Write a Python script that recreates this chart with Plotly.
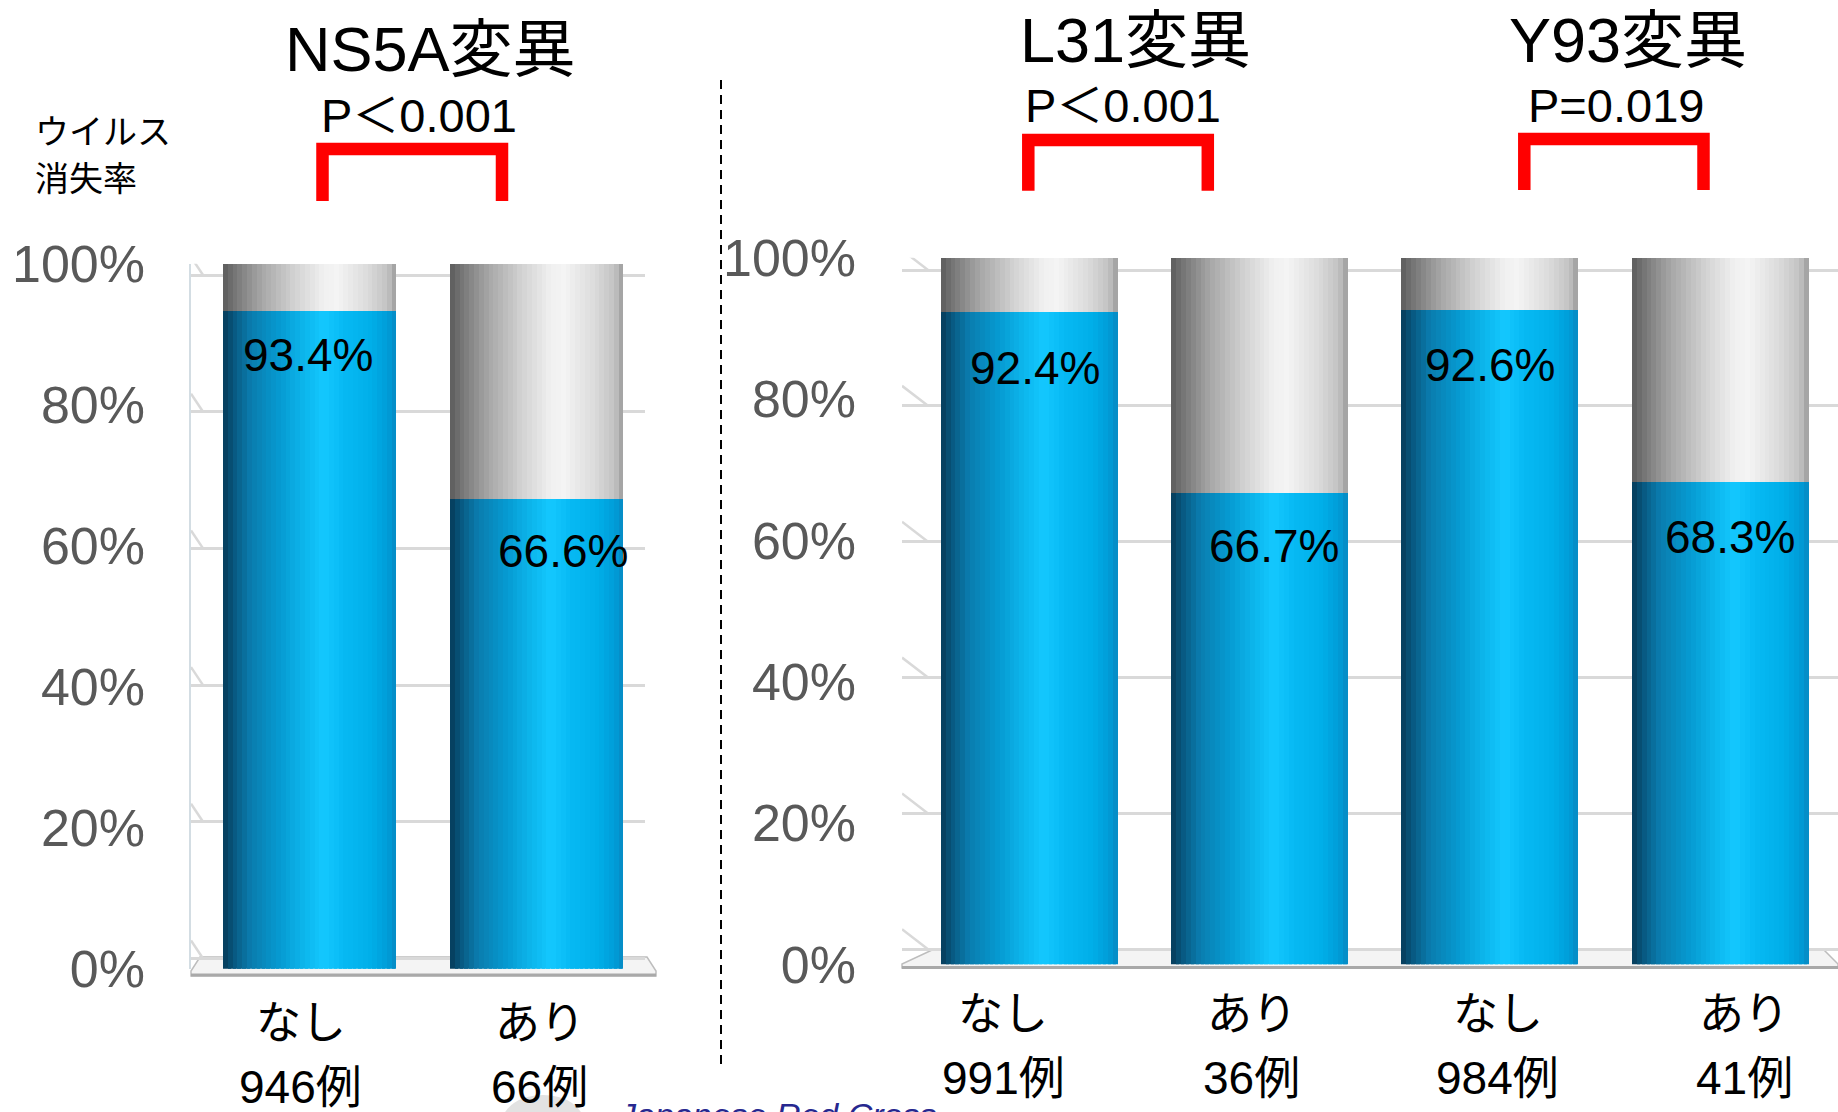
import plotly.graph_objects as go

W, H = 1838, 1112

# ---------------- data ----------------
ns5a_title = "NS5A変異"
ns5a_p = "P＜0.001"
ns5a_groups = ["なし", "あり"]
ns5a_counts = ["946例", "66例"]
ns5a_rates = [93.4, 66.6]

sub_titles = ["L31変異", "Y93変異"]
sub_p = ["P＜0.001", "P=0.019"]
sub_groups = ["なし", "あり", "なし", "あり"]
sub_counts = ["991例", "36例", "984例", "41例"]
sub_rates = [92.4, 66.7, 92.6, 68.3]

y_ticks = [0, 20, 40, 60, 80, 100]
y_ticktext = ["0%", "20%", "40%", "60%", "80%", "100%"]
y_title = ["ウイルス", "消失率"]
watermark = "Japanese Red Cross"

# ---------------- helpers ----------------
FONT = "Liberation Sans, Arial, Noto Sans CJK JP, sans-serif"
JFONT = "Noto Sans CJK JP, Liberation Sans, sans-serif"


def fx(p):
    return p / W


def fy(p):
    return 1 - p / H


def hex2rgb(h):
    h = h.lstrip("#")
    return [int(h[i:i + 2], 16) for i in (0, 2, 4)]


def grad(stops, t):
    for (t0, c0), (t1, c1) in zip(stops[:-1], stops[1:]):
        if t0 <= t <= t1:
            a, b = hex2rgb(c0), hex2rgb(c1)
            f = 0 if t1 == t0 else (t - t0) / (t1 - t0)
            r = [round(a[k] + (b[k] - a[k]) * f) for k in range(3)]
            return "rgb(%d,%d,%d)" % tuple(r)
    return stops[-1][1]


BLUE = [(0.0, "#063b58"), (0.06, "#08577e"), (0.16, "#0a7cae"), (0.32, "#0699d0"),
        (0.48, "#0db8ee"), (0.58, "#14c8ff"), (0.70, "#06b9f3"), (0.86, "#00aee8"),
        (0.95, "#009cd8"), (1.0, "#0789c2")]
GRAY = [(0.0, "#5c5c5c"), (0.08, "#7a7a7a"), (0.22, "#a6a6a6"), (0.40, "#cfcfcf"),
        (0.58, "#f0f0f0"), (0.66, "#f4f4f4"), (0.85, "#d8d8d8"), (0.95, "#c2c2c2"),
        (1.0, "#9a9a9a")]

fig = go.Figure()


def add_cylinders(rates, width, xa, ya, n=36):
    idx = list(range(len(rates)))
    rest = [round(100 - r, 1) for r in rates]
    sw = width / n
    for i in range(n):
        t = (i + 0.5) / n
        off = -width / 2 + i * sw
        w = min(sw * 1.7, width / 2 - off)
        fig.add_trace(go.Bar(x=idx, y=rates, base=[0] * len(rates), offset=off, width=w,
                             marker=dict(color=grad(BLUE, t), line=dict(width=0)),
                             xaxis=xa, yaxis=ya, showlegend=False, hoverinfo="skip"))
        fig.add_trace(go.Bar(x=idx, y=rest, base=rates, offset=off, width=w,
                             marker=dict(color=grad(GRAY, t), line=dict(width=0)),
                             xaxis=xa, yaxis=ya, showlegend=False, hoverinfo="skip"))


add_cylinders(ns5a_rates, 0.764, "x", "y")
add_cylinders(sub_rates, 0.768, "x2", "y2")

tickfont = dict(family=FONT, size=52, color="#595959")

fig.update_layout(
    template="none",
    width=W, height=H,
    margin=dict(l=0, r=0, t=0, b=0, pad=0, autoexpand=False),
    paper_bgcolor="white", plot_bgcolor="rgba(0,0,0,0)",
    barmode="overlay", bargap=0,
    showlegend=False,
    xaxis=dict(domain=[fx(191), fx(645)], range=[-0.523, 1.477], visible=False,
               anchor="y", fixedrange=True, automargin=False),
    yaxis=dict(domain=[fy(968.7), fy(263.8)], range=[0, 100], anchor="x",
               tickvals=y_ticks, ticktext=y_ticktext, showgrid=False, zeroline=False,
               showline=False, ticks="", tickfont=tickfont, ticklabelstandoff=45,
               fixedrange=True, automargin=False),
    yaxis3=dict(overlaying="y", anchor="x", range=[-1.49, 101.64], tickvals=y_ticks,
                showticklabels=False, showgrid=True, gridcolor="#d9d9d9", gridwidth=2.5,
                zeroline=False, showline=True, linecolor="#d3dde3", linewidth=1.5,
                ticks="", fixedrange=True, automargin=False),
    xaxis2=dict(domain=[fx(902), 1.0], range=[-0.552, 3.511], visible=False,
                anchor="y2", fixedrange=True, automargin=False),
    yaxis2=dict(domain=[fy(964.3), fy(257.7)], range=[0, 100], anchor="x2",
                tickvals=y_ticks, ticktext=y_ticktext, showgrid=False, zeroline=False,
                showline=False, ticks="", tickfont=tickfont, ticklabelstandoff=45,
                fixedrange=True, automargin=False),
    yaxis4=dict(overlaying="y2", anchor="x2", range=[-2.21, 101.81], tickvals=y_ticks,
                showticklabels=False, showgrid=True, gridcolor="#d9d9d9", gridwidth=2.5,
                zeroline=False, showline=False, ticks="", fixedrange=True,
                automargin=False),
)

shapes = []
# 3D floor slabs
shapes.append(dict(type="path", xref="paper", yref="paper", layer="below",
                   path="M %f,%f L %f,%f L %f,%f L %f,%f L %f,%f L %f,%f Z" % (
                       fx(200), fy(957), fx(647), fy(957), fx(656), fy(971),
                       fx(656), fy(976), fx(191), fy(976), fx(191), fy(971)),
                   fillcolor="#f4f4f4", line=dict(color="#bdbdbd", width=1.5)))
shapes.append(dict(type="line", xref="paper", yref="paper", layer="below",
                   x0=fx(191), x1=fx(656), y0=fy(975), y1=fy(975),
                   line=dict(color="#a9a9a9", width=3)))
shapes.append(dict(type="path", xref="paper", yref="paper", layer="below",
                   path="M %f,%f L %f,%f L %f,%f L %f,%f L %f,%f L %f,%f Z" % (
                       fx(932), fy(950), fx(1824), fy(950), fx(1838), fy(964),
                       fx(1838), fy(968), fx(902), fy(968), fx(902), fy(964)),
                   fillcolor="#f4f4f4", line=dict(color="#bdbdbd", width=1.5)))
shapes.append(dict(type="line", xref="paper", yref="paper", layer="below",
                   x0=fx(902), x1=1.0, y0=fy(967.5), y1=fy(967.5),
                   line=dict(color="#a9a9a9", width=3)))

# slanted starts of gridlines (3D side wall)
for v in y_ticks:
    shapes.append(dict(type="line", layer="below", xref="x", xsizemode="pixel",
                       xanchor=-0.523, x0=0, x1=12, yref="y3", ysizemode="pixel",
                       yanchor=v, y0=18, y1=0, line=dict(color="#d9d9d9", width=2.5)))
    shapes.append(dict(type="line", layer="below", xref="x2", xsizemode="pixel",
                       xanchor=-0.552, x0=0, x1=26, yref="y4", ysizemode="pixel",
                       yanchor=v, y0=20, y1=0, line=dict(color="#d9d9d9", width=2.5)))

# divider
shapes.append(dict(type="line", xref="paper", yref="paper", x0=fx(721), x1=fx(721),
                   y0=fy(80), y1=fy(1066), line=dict(color="black", width=2, dash="9px,6px")))

# faint grey blob at the bottom edge (part of a cut-off logo)
shapes.append(dict(type="circle", xref="paper", yref="paper", layer="below",
                   x0=fx(502), x1=fx(584), y0=fy(1095), y1=fy(1150),
                   fillcolor="#e2e2e2", line=dict(width=0)))


def bracket(xl, xr, ytop, ybot):
    return dict(type="path", xref="paper", yref="paper",
                path="M %f,%f L %f,%f L %f,%f L %f,%f" % (
                    fx(xl), fy(ybot), fx(xl), fy(ytop), fx(xr), fy(ytop), fx(xr), fy(ybot)),
                line=dict(color="#ff0000", width=12.5))


shapes.append(bracket(322.5, 502, 149, 201))
shapes.append(bracket(1028.3, 1207.8, 140, 190.7))
shapes.append(bracket(1524.3, 1703.5, 139, 190))
fig.update_layout(shapes=shapes)

ann = []


def text(x, y, s, size, color="black", xanchor="center", family=FONT, xref="paper",
         yref="paper", xshift=0, yshift=0, yanchor="middle"):
    ann.append(dict(x=x, y=y, xref=xref, yref=yref, text=s, showarrow=False,
                    xanchor=xanchor, yanchor=yanchor, xshift=xshift, yshift=yshift,
                    font=dict(family=family, size=size, color=color)))


# titles and p-values
text(fx(430), fy(49), ns5a_title, 63)
text(fx(419), fy(115), ns5a_p, 47)
for cx, t, p in zip([1135, 1628], sub_titles, sub_p):
    text(fx(cx), fy(40), t, 63)
    text(fx(cx - 12), fy(106), p, 47)

# y-axis caption
text(fx(33), fy(129), y_title[0], 34, xanchor="left", family=JFONT)
text(fx(33), fy(176), y_title[1], 34, xanchor="left", family=JFONT)

# value labels (label offsets from the top of the blue segment)
ns5a_val_dx = [-2, 26]
ns5a_val_dy = [-45, -52]
sub_val_dx = [6, 14, 0, 10]
sub_val_dy = [-57, -53, -55, -55]
for i, (v, dx, dy) in enumerate(zip(ns5a_rates, ns5a_val_dx, ns5a_val_dy)):
    text(i, v, "%.1f%%" % v, 46, xref="x", yref="y", xshift=dx, yshift=dy)
for i, (v, dx, dy) in enumerate(zip(sub_rates, sub_val_dx, sub_val_dy)):
    text(i, v, "%.1f%%" % v, 46, xref="x2", yref="y2", xshift=dx, yshift=dy)

# category labels
ns5a_cat_dx = [-9, 3]
sub_cat_dx = [-26, -8, 8, 24]
for i, (g, c, dx) in enumerate(zip(ns5a_groups, ns5a_counts, ns5a_cat_dx)):
    text(i, fy(1023), g, 45, xref="x", xshift=dx)
    text(i, fy(1087), c, 46, xref="x", xshift=dx)
for i, (g, c, dx) in enumerate(zip(sub_groups, sub_counts, sub_cat_dx)):
    text(i, fy(1014), g, 45, xref="x2", xshift=dx)
    text(i, fy(1078), c, 46, xref="x2", xshift=dx)

# cut-off watermark at the bottom edge
text(fx(616), fy(1094), "<i>%s</i>" % watermark, 34, color="#27288f", xanchor="left",
     yanchor="top")

fig.update_layout(annotations=ann)

fig.write_html("out.html", config={"displayModeBar": False},
               post_script="document.body.style.margin='0px';document.body.style.overflow='hidden';")
